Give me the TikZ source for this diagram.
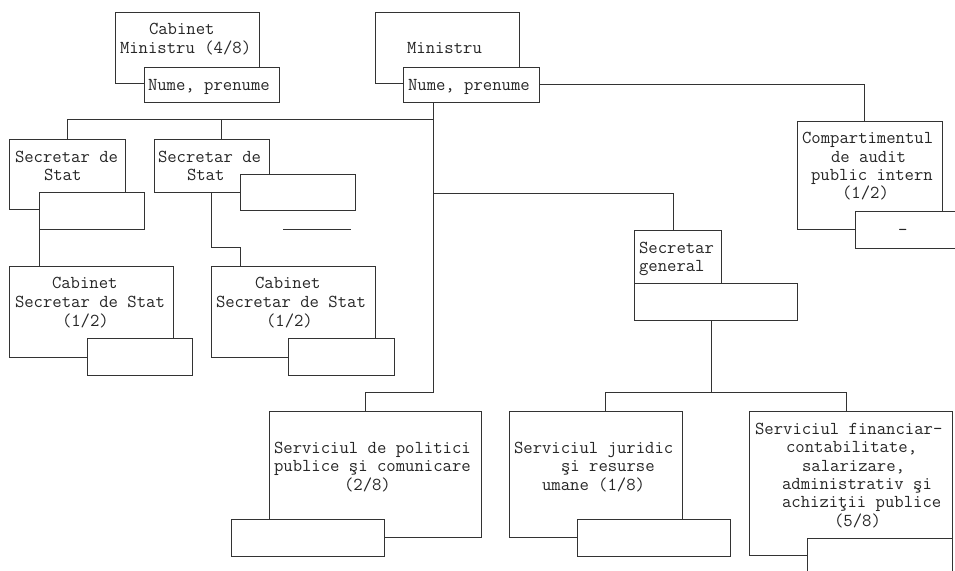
\documentclass[tikz,border=0pt]{standalone}
\usepackage{fontspec}
\usetikzlibrary{calc}
\newcommand\mybox[5]{\node[bxs,anchor=north west,minimum width={(#4-#2)*1pt},minimum height={(#5-#3)*1pt}] (#1) at (#2,#3) {};}
\begin{document}
\begin{tikzpicture}[x=1pt,y=-1pt,
  ln/.style={draw=black!80,line width=0.9pt},
  bxs/.style={ln,fill=white,rectangle,inner sep=0pt,outer sep=0pt},
  txt/.style={anchor=base west,inner sep=0pt,outer sep=0pt,text=black!85,font=\ttfamily\fontsize{18.2}{18.33}\selectfont}]
\useasboundingbox (0,0) rectangle (955,570);
\clip (0,0) rectangle (955,570);
% outer boxes
\mybox{cm}{115}{12}{259}{83}
\mybox{mi}{375}{12}{519}{83}
\mybox{ss1}{9}{139}{125}{209}
\mybox{ss2}{154}{139}{269}{192}
\mybox{cs1}{9}{266}{173}{357}
\mybox{cs2}{211}{266}{375}{357}
\mybox{cp}{797}{121}{942}{229}
\mybox{sg}{634}{230}{721}{283}
\mybox{sp}{269}{411}{481}{537}
\mybox{sj}{509}{411}{682}{537}
\mybox{sf}{749}{411}{952}{555}
% inner boxes
\mybox{cmn}{144}{67}{279}{102}
\mybox{mn}{403}{67}{539}{102}
\mybox{ss1i}{39}{192}{144}{229}
\mybox{ss2i}{240}{174}{355}{210}
\mybox{cs1i}{87}{338}{192}{375}
\mybox{cs2i}{288}{338}{394}{375}
\mybox{cpi}{855}{211}{975}{248}
\mybox{sgi}{634}{283}{797}{320}
\mybox{spi}{231}{519}{384}{556}
\mybox{sji}{577}{519}{730}{556}
\mybox{sfi}{807}{538}{952}{600}
% loose line
\draw[ln] (283,229) -- (351,229);
% connectors
\coordinate (trk) at ([xshift=-38pt]mn.south);
\coordinate (h1) at (433,119);
\coordinate (h2) at (433,193);
\coordinate (j1) at (433,392);
\coordinate (s2t) at ([xshift=10pt]ss2.north);
\coordinate (spt) at ([xshift=-10pt]sp.north);
\coordinate (sgt) at ([xshift=-4.5pt]sg.north);
\coordinate (cpt) at ([xshift=-5.5pt]cp.north);
\coordinate (j2) at (240,247);
\coordinate (sgb) at ([xshift=-4.5pt]sgi.south);
\coordinate (sjt) at ([xshift=9.5pt]sj.north);
\coordinate (sft) at ([xshift=-4.5pt]sf.north);
\draw[ln] (ss1.north) |- (h1);
\draw[ln] (s2t) -- (s2t |- h1);
\draw[ln] (trk) -- (j1) -| (spt);
\draw[ln] (h2) -| (sgt);
\draw[ln] (mn.east) -| (cpt);
\draw[ln] (ss1i.south west) -- (ss1i.south west |- cs1.north);
\draw[ln] (ss2.south) |- (j2) -- (j2 |- cs2.north);
\draw[ln] (sgb) -- (sgb |- j1);
\draw[ln] (sjt) -- (sjt |- j1) -- (sft |- j1) -- (sft);
% texts
\node[txt] (t1) at (149,34) {Cabinet};
\node[txt] (t2) at (120,53) {Ministru (4/8)};
\node[txt] (t3) at (148,90) {Nume, prenume};
\node[txt] (t4) at (407,53) {Ministru};
\node[txt] (t5) at (408,90) {Nume, prenume};
\node[txt] (t6) at (15,162) {Secretar de};
\node[txt] (t7) at (44,180) {Stat};
\node[txt] (t8) at (158,162) {Secretar de};
\node[txt] (t9) at (187,180) {Stat};
\node[txt] (t10) at (52,288) {Cabinet};
\node[txt] (t11) at (15,307) {Secretar de Stat};
\node[txt] (t12) at (62,326) {(1/2)};
\node[txt] (t13) at (255,288) {Cabinet};
\node[txt] (t14) at (216,307) {Secretar de Stat};
\node[txt] (t15) at (266,326) {(1/2)};
\node[txt] (t16) at (802,143) {Compartimentul};
\node[txt] (t17) at (831,162) {de audit};
\node[txt] (t18) at (811,180) {public intern};
\node[txt] (t19) at (842,198) {(1/2)};
\node[txt] (t20) at (898,235) {-};
\node[txt] (t21) at (639,253) {Secretar};
\node[txt] (t22) at (639,271) {general};
\node[txt] (t23) at (274,453) {Serviciul de politici};
\node[txt] (t24) at (274,471) {publice şi comunicare};
\node[txt] (t25) at (344,490) {(2/8)};
\node[txt] (t26) at (514,453) {Serviciul juridic};
\node[txt] (t27) at (561,471) {şi resurse};
\node[txt] (t28) at (542,490) {umane (1/8)};
\node[txt] (t29) at (755,434) {Serviciul financiar-};
\node[txt] (t30) at (786,452) {contabilitate,};
\node[txt] (t31) at (802,471) {salarizare,};
\node[txt] (t32) at (782,489) {administrativ şi};
\node[txt] (t33) at (782,507) {achiziţii publice};
\node[txt] (t34) at (834,526) {(5/8)};
\end{tikzpicture}
\end{document}
